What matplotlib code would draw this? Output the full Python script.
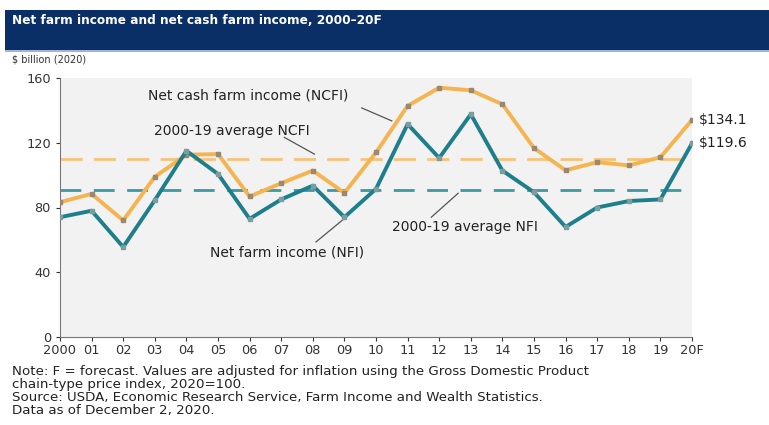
import matplotlib.pyplot as plt
import matplotlib.patches as patches
from matplotlib.lines import Line2D

years = list(range(2000, 2021))
tick_labels = ['2000', '01', '02', '03', '04', '05', '06', '07', '08', '09', '10',
               '11', '12', '13', '14', '15', '16', '17', '18', '19', '20F']
ncfi = [83.3, 88.4, 72.0, 99.0, 112.6, 113.0, 86.8, 95.0, 102.8, 89.0, 114.0,
        142.8, 154.0, 152.4, 143.8, 116.7, 103.0, 108.0, 106.0, 111.0, 134.1]
nfi = [74.0, 78.0, 55.6, 84.5, 115.0, 100.7, 73.0, 85.0, 93.5, 74.0, 91.5,
       131.5, 110.6, 137.6, 102.8, 89.4, 68.0, 80.0, 84.0, 85.0, 119.6]
avg_ncfi = 110.0
avg_nfi = 91.0

orange = '#f5b44f'
teal = '#1d7f8c'

fig = plt.figure(figsize=(7.69, 4.25), dpi=100)
plt.rcParams['font.family'] = 'DejaVu Sans'

# title bar
fig.patches.append(patches.Rectangle((5 / 769, 1 - 50 / 425), 764 / 769, 40 / 425,
                                     transform=fig.transFigure, facecolor='#0a2f66',
                                     edgecolor='none'))
fig.patches.append(patches.Rectangle((5 / 769, 1 - 52 / 425), 764 / 769, 2 / 425,
                                     transform=fig.transFigure, facecolor='#9fb6d6',
                                     edgecolor='none'))
fig.text(12 / 769, 1 - 20 / 425, 'Net farm income and net cash farm income, 2000\u201320F',
         color='white', fontsize=8.7, fontweight='bold', va='center', ha='left')
fig.text(12 / 769, 1 - 60 / 425, '$ billion (2020)', fontsize=7, color='#333333',
         va='center', ha='left')

ax = fig.add_axes([60 / 769, 1 - 337 / 425, 632 / 769, 259 / 425])
ax.set_facecolor('#f2f2f2')

ax.axhline(avg_ncfi, color='#f7c27a', lw=2, dashes=(8, 4), zorder=1)
ax.axhline(avg_nfi, color='#3a9aa3', lw=2, dashes=(7.5, 4.5), zorder=1)

ax.plot(years, ncfi, color=orange, lw=2.8, marker='s', ms=3,
        mfc='#9a8870', mec='#9a8870', zorder=3)
ax.plot(years, nfi, color=teal, lw=2.8, marker='s', ms=3,
        mfc='#7a9da0', mec='#7a9da0', zorder=3)

ax.set_xlim(2000, 2020)
ax.set_ylim(0, 160)
ax.set_yticks([0, 40, 80, 120, 160])
ax.set_xticks(years)
ax.set_xticklabels(tick_labels)
ax.tick_params(axis='both', labelsize=9.3, colors='#333333', length=3, width=0.8)
ax.tick_params(axis='x', pad=2)
for side in ['top', 'right']:
    ax.spines[side].set_visible(False)
for side in ['left', 'bottom']:
    ax.spines[side].set_color('#777777')

# annotations
ann = dict(fontsize=10, color='#222222', ha='center', va='center')
ax.text(2005.95, 149, 'Net cash farm income (NCFI)', **ann)
ax.add_line(Line2D([2009.55, 2010.5], [141.5, 133.5], color='#555555', lw=0.9))
ax.text(2005.45, 127, '2000-19 average NCFI', **ann)
ax.add_line(Line2D([2007.1, 2008.05], [123.3, 113], color='#555555', lw=0.9))
ax.text(2007.2, 52.5, 'Net farm income (NFI)', **ann)
ax.add_line(Line2D([2008.1, 2009.05], [58.7, 74], color='#555555', lw=0.9))
ax.text(2012.8, 68, '2000-19 average NFI', **ann)
ax.add_line(Line2D([2011.75, 2012.6], [74, 88.8], color='#555555', lw=0.9))

ax.annotate('$134.1', xy=(years[-1], ncfi[-1]), xytext=(5, 0), textcoords='offset points',
            fontsize=10, color='#222222', va='center', annotation_clip=False)
ax.annotate('$119.6', xy=(years[-1], nfi[-1]), xytext=(5, 0), textcoords='offset points',
            fontsize=10, color='#222222', va='center', annotation_clip=False)

notes = ['Note: F = forecast. Values are adjusted for inflation using the Gross Domestic Product',
         'chain-type price index, 2020=100.',
         'Source: USDA, Economic Research Service, Farm Income and Wealth Statistics.',
         'Data as of December 2, 2020.']
for i, line in enumerate(notes):
    fig.text(12 / 769, 1 - (371 + i * 13.3) / 425, line, fontsize=9.6, color='#222222',
             va='center', ha='left')

fig.savefig('out.png', dpi=100)
